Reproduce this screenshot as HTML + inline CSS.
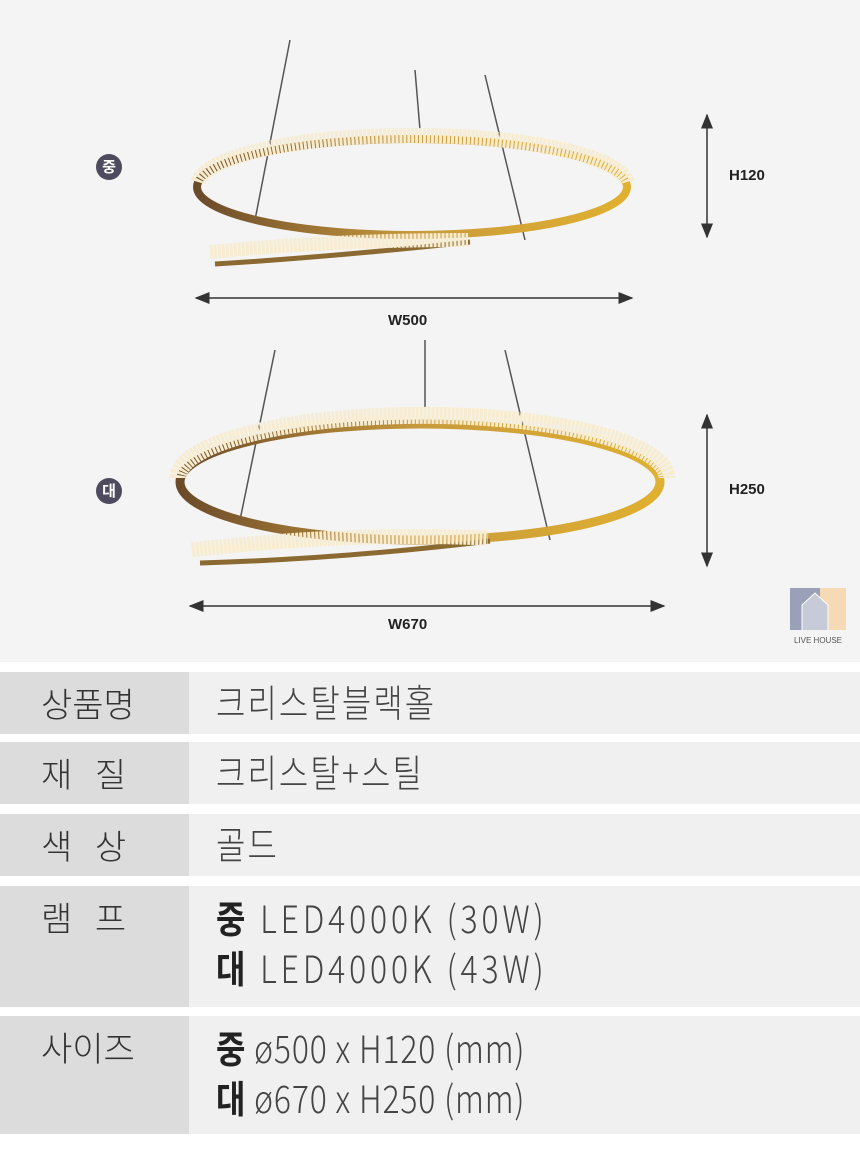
<!DOCTYPE html>
<html><head><meta charset="utf-8"><style>
body{margin:0;width:860px;height:1149px;background:#fff;font-family:"Liberation Sans","Noto Sans CJK KR",sans-serif;position:relative;overflow:hidden}
.top{position:absolute;left:0;top:0;width:860px;height:662px;background:#f4f4f4}
.row{position:absolute;left:0;width:860px;background:#f0f0f0}
.lab{position:absolute;left:0;top:0;bottom:0;width:189px;background:#dcdcdc;color:#333;font-size:34px;font-family:"Noto Sans CJK KR",sans-serif;font-weight:300}
.lab span{position:absolute;left:41px;}
.val{position:absolute;left:216px;color:#444;font-size:38px;font-family:"Noto Sans CJK KR",sans-serif;font-weight:300;line-height:50px;letter-spacing:2.5px;transform:scaleX(0.84);transform-origin:0 0;white-space:nowrap}
.val b{font-weight:700;color:#222}
.dim{position:absolute;font-size:15px;font-weight:bold;color:#222}
.badge{position:absolute;width:26px;height:26px;border-radius:50%;background:#4e4b5e;color:#fff;font-size:15px;text-align:center;line-height:26px;font-family:"Noto Sans CJK KR",sans-serif;font-weight:bold}
</style></head><body>
<div class="top"></div>
<svg style="position:absolute;left:0;top:0" width="860" height="662">
<defs>
<linearGradient id="g" x1="0" x2="1"><stop offset="0" stop-color="#6b4a2a"/><stop offset=".5" stop-color="#c89a3c"/><stop offset="1" stop-color="#e0b030"/></linearGradient>
<marker id="a" markerWidth="10" markerHeight="8" refX="9" refY="4" orient="auto"><path d="M0,0L10,4L0,8z" fill="#333"/></marker>
<marker id="b" markerWidth="10" markerHeight="8" refX="1" refY="4" orient="auto"><path d="M10,0L0,4L10,8z" fill="#333"/></marker>
</defs>
<g stroke="#555" stroke-width="1.5">
<line x1="290" y1="40" x2="255" y2="220"/><line x1="415" y1="70" x2="420" y2="130"/><line x1="485" y1="75" x2="525" y2="240"/>
<line x1="275" y1="350" x2="240" y2="520"/><line x1="425" y1="340" x2="425" y2="415"/><line x1="505" y1="350" x2="550" y2="540"/>
</g>
<ellipse cx="412" cy="187" rx="215" ry="48" fill="none" stroke="url(#g)" stroke-width="8"/>
<path d="M198,182 A215,50 0 0 1 627,182" fill="none" stroke="#f7ecd0" stroke-width="15" stroke-dasharray="3 1"/>
<path d="M215,264 Q330,257 470,242" fill="none" stroke="#8a6a30" stroke-width="5"/>
<path d="M210,252 Q330,240 468,240" fill="none" stroke="#f7ecd0" stroke-width="14" stroke-dasharray="3 1"/>
<ellipse cx="420" cy="482" rx="240" ry="58" fill="none" stroke="url(#g)" stroke-width="9"/>
<path d="M178,478 A242,62 0 0 1 667,478" fill="none" stroke="#f7ecd0" stroke-width="17" stroke-dasharray="3 1"/>
<path d="M200,563 Q340,559 490,541" fill="none" stroke="#8a6a30" stroke-width="5"/>
<path d="M192,550 Q340,532 488,538" fill="none" stroke="#f7ecd0" stroke-width="15" stroke-dasharray="3 1"/>
<g stroke="#333" stroke-width="1.5">
<line x1="196" y1="298" x2="632" y2="298" marker-end="url(#a)" marker-start="url(#b)"/>
<line x1="190" y1="606" x2="664" y2="606" marker-end="url(#a)" marker-start="url(#b)"/>
<line x1="707" y1="115" x2="707" y2="237" marker-end="url(#a)" marker-start="url(#b)"/>
<line x1="707" y1="415" x2="707" y2="566" marker-end="url(#a)" marker-start="url(#b)"/>
</g>
<rect x="790" y="588" width="56" height="42" fill="#f6d9b5"/><rect x="790" y="588" width="30" height="42" fill="#9aa0b8"/>
<path d="M802,630V605L815,593L828,605V630" fill="#c7cbd8" stroke="#fff"/>
<text x="818" y="643" font-size="8" fill="#555" text-anchor="middle" font-family="Liberation Sans">LIVE HOUSE</text>
</svg>
<div class="badge" style="left:96px;top:154px">중</div>
<div class="badge" style="left:96px;top:478px">대</div>
<div class="dim" style="left:388px;top:312px">W500</div>
<div class="dim" style="left:388px;top:616px">W670</div>
<div class="dim" style="left:729px;top:167px">H120</div>
<div class="dim" style="left:729px;top:481px">H250</div>

<div class="row" style="top:672px;height:62px"><div class="lab"><span style="top:6px">상품명</span></div><div class="val" style="top:4px">크리스탈블랙홀</div></div>
<div class="row" style="top:742px;height:62px"><div class="lab"><span style="top:6px">재&nbsp;&nbsp;&nbsp;질</span></div><div class="val" style="top:4px">크리스탈+스틸</div></div>
<div class="row" style="top:814px;height:62px"><div class="lab"><span style="top:6px">색&nbsp;&nbsp;&nbsp;상</span></div><div class="val" style="top:4px">골드</div></div>
<div class="row" style="top:886px;height:121px"><div class="lab"><span style="top:6px">램&nbsp;&nbsp;&nbsp;프</span></div><div class="val" style="top:6px;letter-spacing:4.6px"><b>중</b> LED4000K (30W)<br><b>대</b> LED4000K (43W)</div></div>
<div class="row" style="top:1016px;height:118px"><div class="lab"><span style="top:6px">사이즈</span></div><div class="val" style="top:6px;letter-spacing:1px"><b>중</b> ø500 x H120 (mm)<br><b>대</b> ø670 x H250 (mm)</div></div>
</body></html>
